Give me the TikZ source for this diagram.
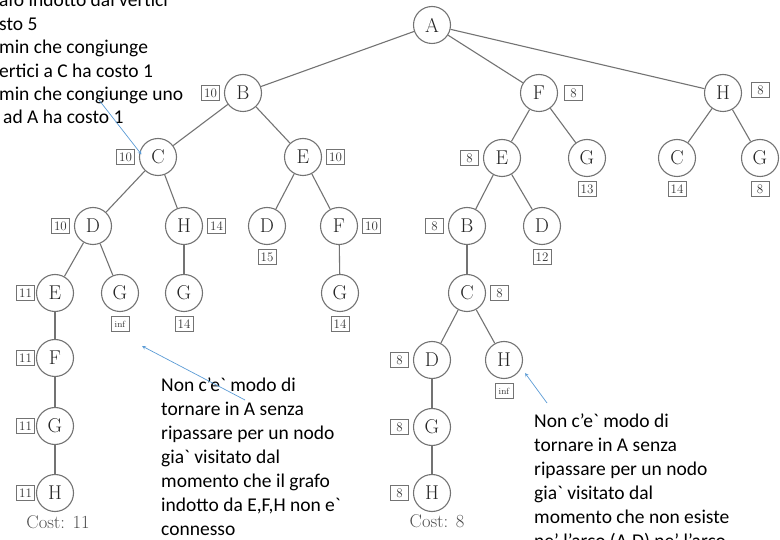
\documentclass[tikz,border=0pt]{standalone}
\usepackage{fontspec}
\newfontfamily\notefont[Ligatures=TeXOff]{Carlito}
\usetikzlibrary{positioning}
\definecolor{edgegray}{RGB}{115,115,115}
\definecolor{noteblue}{RGB}{91,155,213}

\begin{document}
\begin{tikzpicture}[x=1pt, y=1pt,
    state/.style={circle, draw=edgegray, line width=1.1pt, minimum size=37pt, inner sep=0pt, font=\fontsize{20}{20}\selectfont, text=black!85},
    cost/.style={rectangle, draw=edgegray, line width=0.9pt, minimum width=18pt, minimum height=15pt, inner sep=1.5pt, font=\fontsize{13}{13}\selectfont, text=black!80},
    edge/.style={draw=edgegray, line width=1.1pt},
    total/.style={font=\fontsize{18.5}{18.5}\selectfont, text=black!70},
    note/.style={align=left, anchor=base west, inner sep=0pt, font=\notefont\fontsize{19.5}{24}\selectfont},
    pointer/.style={->, >=stealth, draw=noteblue, line width=0.7pt},
    node distance=4pt
]
\useasboundingbox (0,0) rectangle (780,539);
\clip (0,0) rectangle (780,539);

% root and first level
\node[state] (a) at (432,514) {A};
\node[state] (b) at (243,446) {B};
\node[state] (f) at (539,446) {F};
\node[state] (h) at (723,446) {H};

% second level
\node[state] (bc) at (158,382) {C};
\node[state] (be) at (303,382) {E};
\node[state] (fe) at (502,381) {E};
\node[state] (fg) at (587,381) {G};
\node[state] (hc) at (677,381) {C};
\node[state] (hg) at (760,381) {G};

% third level
\node[state] (bcd) at (93,313) {D};
\node[state] (bch) at (184,313) {H};
\node[state] (bed) at (267,313) {D};
\node[state] (bef) at (339,313) {F};
\node[state] (feb) at (467,313) {B};
\node[state] (fed) at (542,313) {D};

% fourth level
\node[state] (bcde) at (55,246) {E};
\node[state] (bcdg) at (120,246) {G};
\node[state] (bchg) at (184,246) {G};
\node[state] (befg) at (340,246) {G};
\node[state] (febc) at (467,246) {C};

% deeper levels
\node[state] (bcdef) at (55,181) {F};
\node[state] (febcd) at (432,179) {D};
\node[state] (febch) at (504,179) {H};
\node[state] (bcdefg) at (55,113) {G};
\node[state] (febcdg) at (432,112) {G};
\node[state] (bcdefgh) at (55,46) {H};
\node[state] (febcdgh) at (432,46) {H};

\node[total] (cost1) at (58,17) {Cost: 11};
\node[total] (cost2) at (437,18) {Cost: 8};

% edges
\draw[edge] (a) -- (b);
\draw[edge] (a) -- (f);
\draw[edge] (a) -- (h);
\draw[edge] (b) -- (bc);
\draw[edge] (b) -- (be);
\draw[edge] (f) -- (fe);
\draw[edge] (f) -- (fg);
\draw[edge] (h) -- (hc);
\draw[edge] (h) -- (hg);
\draw[edge] (bc) -- (bcd);
\draw[edge] (bc) -- (bch);
\draw[edge] (be) -- (bed);
\draw[edge] (be) -- (bef);
\draw[edge] (fe) -- (feb);
\draw[edge] (fe) -- (fed);
\draw[edge] (bcd) -- (bcde);
\draw[edge] (bcd) -- (bcdg);
\draw[edge] (bch) -- (bchg);
\draw[edge] (bef) -- (befg);
\draw[edge] (feb) -- (febc);
\draw[edge] (bcde) -- (bcdef);
\draw[edge] (febc) -- (febcd);
\draw[edge] (febc) -- (febch);
\draw[edge] (bcdef) -- (bcdefg);
\draw[edge] (febcd) -- (febcdg);
\draw[edge] (bcdefg) -- (bcdefgh);
\draw[edge] (febcdg) -- (febcdgh);

% cost boxes
\node[cost, left=of b] (cb) {10};
\node[cost, right=6pt of f] (cf) {8};
\node[cost, right=9pt of h, yshift=3pt] (ch) {8};
\node[cost, left=of bc] (cbc) {10};
\node[cost, right=of be] (cbe) {10};
\node[cost, left=of fe] (cfe) {8};
\node[cost, below=of fg] (cfg) {13};
\node[cost, below=of hc] (chc) {14};
\node[cost, below=of hg] (chg) {8};
\node[cost, left=of bcd] (cbcd) {10};
\node[cost, right=of bch] (cbch) {14};
\node[cost, below=of bed] (cbed) {15};
\node[cost, right=of bef] (cbef) {10};
\node[cost, left=of feb] (cfeb) {8};
\node[cost, below=of fed] (cfed) {12};
\node[cost, left=1pt of bcde] (cbcde) {11};
\node[cost, below=of bcdg, font=\fontsize{9}{9}\selectfont] (cbcdg) {inf};
\node[cost, below=of bchg] (cbchg) {14};
\node[cost, below=of befg] (cbefg) {14};
\node[cost, right=of febc] (cfebc) {8};
\node[cost, left=1pt of bcdef] (cbcdef) {11};
\node[cost, left=of febcd] (cfebcd) {8};
\node[cost, below=of febch, font=\fontsize{9}{9}\selectfont] (cfebch) {inf};
\node[cost, left=1pt of bcdefg] (cbcdefg) {11};
\node[cost, left=of febcdg] (cfebcdg) {8};
\node[cost, left=1pt of bcdefgh] (cbcdefgh) {11};
\node[cost, left=of febcdgh] (cfebcdgh) {8};

% notes (anchored at the baseline of their last line)
\node[note, font=\notefont\fontsize{19.5}{23.4}\selectfont] (note1) at (-1,415) {afo indotto dai vertici\\sto 5\\min che congiunge\\ertici a C ha costo 1\\min che congiunge uno\\\hspace{4pt}ad A ha costo 1};
\node[note] (note2) at (161,4) {Non c’e` modo di\\tornare in A senza\\ripassare per un nodo\\gia` visitato dal\\momento che il grafo\\indotto da E,F,H non e`\\connesso};
\node[note] (note3) at (534,-8) {Non c’e` modo di\\tornare in A senza\\ripassare per un nodo\\gia` visitato dal\\momento che non esiste\\ne’ l’arco (A,D) ne’ l’arco};

% pointers
\coordinate (p1) at (99,439);
\coordinate (p2) at (245,139);
\coordinate (t2) at (142,193);
\coordinate (p3) at (547,136);
\coordinate (t3) at (525,166);
\draw[pointer, shorten >=-3pt] (p1) -- (bc.165);
\draw[pointer] (p2) -- (t2);
\draw[pointer] (p3) -- (t3);
\end{tikzpicture}
\end{document}
